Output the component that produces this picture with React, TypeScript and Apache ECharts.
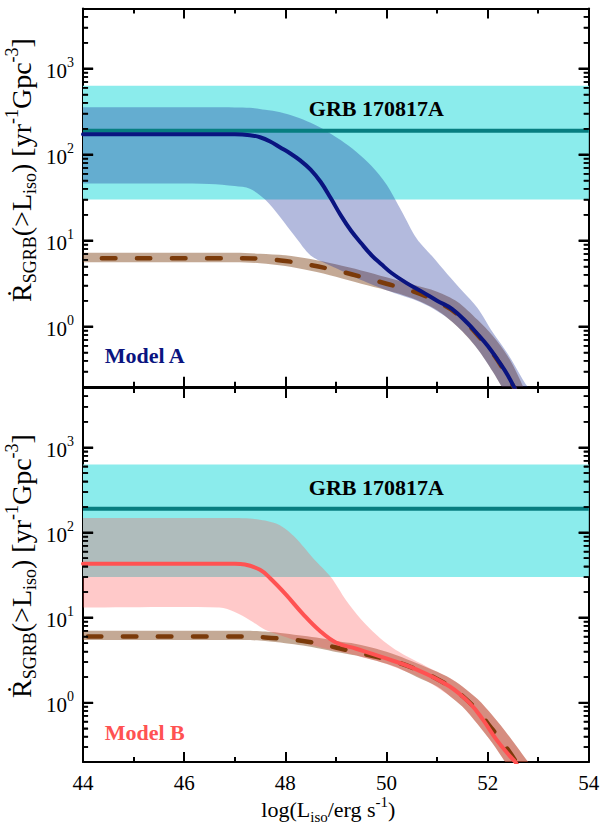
import React, { useEffect, useRef } from 'react';
import * as echarts from 'echarts';

const FONT = '"Liberation Serif", "DejaVu Serif", "Times New Roman", serif';

// ---- axes -------------------------------------------------------------
const L_MIN = 44;
const L_MAX = 54;
const L_STEP = 2;
const RATE_MIN = 0.2;
const RATE_MAX = 5000;
const rateMajorTicks = [1, 10, 100, 1000];
const rateMinorTicks = [
  0.3, 0.4, 0.5, 0.6, 0.7, 0.8, 0.9,
  2, 3, 4, 5, 6, 7, 8, 9,
  20, 30, 40, 50, 60, 70, 80, 90,
  200, 300, 400, 500, 600, 700, 800, 900,
  2000, 3000, 4000,
];
// inward tick lengths along the luminosity axis (axis units)
const MAJOR_TICK_LEN = 0.2;
const MINOR_TICK_LEN = 0.1;

// ---- GRB 170817A local rate (yr^-1 Gpc^-3) ------------------------------
const grbRate = 190;
const grbRateLow = 30;
const grbRateHigh = 630;
const grbLabel = 'GRB 170817A';
const grbLabelPos = [49.8, 340];

// ---- observed SGRB rate (dashed curve and its band), upper panel --------
const obsAL = [44, 47.0, 47.5, 48.0, 48.5, 49.0, 49.5, 50.0, 50.5, 51.0, 51.4, 51.8, 52.1, 52.4, 52.6, 52.8, 53.0];
const obsARate = [6.25, 6.25, 6.15, 5.8, 5.2, 4.5, 3.8, 3.15, 2.6, 1.95, 1.4, 0.8, 0.49, 0.26, 0.16, 0.09, 0.05];
const obsAHigh = [7.2, 7.2, 7.05, 6.75, 6.1, 5.3, 4.5, 3.75, 3.1, 2.55, 1.95, 1.2, 0.78, 0.45, 0.27, 0.15, 0.09];
const obsALow = [5.6, 5.6, 5.45, 5.05, 4.45, 3.8, 3.15, 2.65, 2.15, 1.55, 1.0, 0.55, 0.3, 0.15, 0.09, 0.05, 0.03];

// ---- Model A --------------------------------------------------------------
const modelAL = [44, 47.0, 47.3, 47.5, 47.7, 47.9, 48.1, 48.3, 48.5, 48.7, 48.9, 49.1, 49.3, 49.5, 49.7, 49.9, 50.1, 50.4, 50.7, 51.0, 51.3, 51.6, 51.8, 52.0, 52.2, 52.4, 52.6, 52.8];
const modelARate = [172, 172, 168, 159, 142, 121, 103, 85, 67, 48, 31, 19.5, 13, 9.3, 6.8, 5.3, 4.2, 3.2, 2.55, 2.0, 1.6, 1.1, 0.82, 0.6, 0.41, 0.27, 0.16, 0.095];
const bandAL = [44, 46.5, 47.0, 47.3, 47.6, 47.9, 48.2, 48.5, 48.8, 49.1, 49.4, 49.7, 50.0, 50.3, 50.6, 50.9, 51.2, 51.5, 51.8, 52.1, 52.4, 52.7, 53.0];
const bandAHigh = [355, 355, 354, 350, 332, 311, 275, 234, 190, 147, 108, 74, 45, 22, 10.5, 6.6, 4.1, 2.6, 1.65, 0.86, 0.48, 0.24, 0.12];
const bandALow = [46, 45.5, 43, 40, 30, 18.7, 11, 6.7, 5.4, 4.5, 3.7, 3.1, 2.65, 2.3, 2.0, 1.65, 1.27, 0.88, 0.55, 0.3, 0.15, 0.07, 0.035];
const modelALabelPos = [45.22, 0.46];

// ---- observed SGRB rate, lower panel --------------------------------------
const obsBL = [44, 47.2, 47.6, 48.0, 48.35, 48.7, 49.0, 49.4, 49.8, 50.2, 50.6, 51.0, 51.25, 51.5, 51.8, 52.1, 52.4, 52.7, 53.0];
const obsBRate = [6.0, 6.0, 5.85, 5.6, 5.3, 4.9, 4.45, 3.9, 3.45, 3.0, 2.45, 1.9, 1.55, 1.2, 0.8, 0.48, 0.28, 0.15, 0.08];
const obsBHigh = [7.0, 7.0, 6.85, 6.5, 6.1, 5.7, 5.3, 4.9, 4.3, 3.6, 2.9, 2.3, 1.95, 1.55, 1.1, 0.7, 0.42, 0.24, 0.13];
const obsBLow = [5.45, 5.45, 5.3, 5.0, 4.69, 4.3, 3.95, 3.58, 3.1, 2.6, 2.0, 1.55, 1.2, 0.9, 0.56, 0.33, 0.18, 0.1, 0.05];

// ---- Model B --------------------------------------------------------------
const modelBL = [44, 47.0, 47.2, 47.5, 47.7, 48.0, 48.35, 48.68, 49.0, 49.4, 49.9, 50.6, 51.25, 51.65, 51.9, 52.17, 52.44, 52.55, 52.7, 52.9];
const modelBRate = [42.8, 42.8, 42, 36.5, 29, 19, 11, 7.0, 5.1, 4.3, 3.45, 2.45, 1.55, 0.98, 0.64, 0.37, 0.235, 0.2, 0.14, 0.09];
const bandBL = [44, 46.7, 47.0, 47.3, 47.6, 47.9, 48.2, 48.55, 48.9, 49.2, 49.5, 49.8, 50.1, 50.4, 50.8, 51.25, 51.5, 51.8, 52.1, 52.4, 52.7, 53.0];
const bandBHigh = [148, 148, 148, 146, 138, 121, 87, 50, 30, 16, 9.5, 6.3, 4.5, 3.5, 2.65, 1.95, 1.55, 1.1, 0.7, 0.42, 0.24, 0.13];
const bandBLow = [13.1, 13.1, 11.6, 9.3, 7.2, 6.2, 5.4, 4.7, 4.2, 3.85, 3.45, 3.1, 2.7, 2.3, 1.8, 1.2, 0.9, 0.56, 0.33, 0.18, 0.1, 0.05];
const modelBLabelPos = [45.22, 0.45];

// ---- colours ----------------------------------------------------------------
const CYAN = '#8BECEC';
const TEAL = '#077E80';
const NAVY = '#0A1480';
const NAVY_BAND = 'rgba(20,40,150,0.32)';
const RED = '#FF5252';
const RED_BAND = 'rgba(255,80,80,0.31)';
const BROWN = '#7B3A0A';
const BROWN_BAND = 'rgba(125,65,20,0.45)';

const AXIS_COLOR = '#000';
const Y_AXES_PER_GRID = 2;

const pairs = (xs: number[], ys: number[]) => xs.map((x, i) => [x, ys[i]]);

const supRich = {
  b: { fontSize: 21, fontFamily: FONT, color: '#000', lineHeight: 26, verticalAlign: 'bottom' },
  sup: { fontSize: 14, fontFamily: FONT, color: '#000', lineHeight: 14, verticalAlign: 'top' },
};

const titleRich = (size: number, small: number) => ({
  m: { fontSize: size, fontFamily: FONT, color: '#000', lineHeight: size + 8, verticalAlign: 'middle' },
  sub: { fontSize: small, fontFamily: FONT, color: '#000', lineHeight: small, verticalAlign: 'bottom' },
  sup: { fontSize: small, fontFamily: FONT, color: '#000', lineHeight: small, verticalAlign: 'top' },
});

function xAxis(gridIndex: number, position: 'top' | 'bottom', labelled: boolean) {
  const tickStyle = { color: AXIS_COLOR, width: 2 };
  return {
    type: 'value',
    gridIndex,
    position,
    min: L_MIN,
    max: L_MAX,
    interval: L_STEP,
    axisLine: { show: true, onZero: false, lineStyle: { color: AXIS_COLOR, width: 2 } },
    axisTick: { show: true, inside: true, length: 10, lineStyle: tickStyle },
    minorTick: { show: true, splitNumber: 2, length: 5, lineStyle: tickStyle },
    splitLine: { show: false },
    minorSplitLine: { show: false },
    axisLabel: {
      show: labelled,
      margin: 10,
      fontSize: 21,
      fontFamily: FONT,
      color: '#000',
    },
    ...(labelled
      ? {
          name: '{m|log(L}{sub|iso}{m|/erg s}{sup|-1}{m|)}',
          nameLocation: 'middle',
          nameGap: 28,
          nameTextStyle: {
            rich: titleRich(22, 15),
            padding: [0, 15, 0, 0],
          },
        }
      : {}),
  };
}

// Per grid: the log axis that carries the data and labels, and its mirror on the right.
function yAxes(gridIndex: number) {
  const line = () => ({ show: true, onZero: false, lineStyle: { color: AXIS_COLOR, width: 2 } });
  const logBase = () => ({
    type: 'log',
    logBase: 10,
    gridIndex,
    min: RATE_MIN,
    max: RATE_MAX,
    splitLine: { show: false },
    minorTick: { show: false },
    minorSplitLine: { show: false },
    axisTick: { show: false },
    axisLine: line(),
  });
  return [
    {
      ...logBase(),
      position: 'left',
      axisLabel: {
        show: true,
        margin: 9,
        customValues: rateMajorTicks.slice(),
        formatter: (v: number) => `{b|10}{sup|${Math.round(Math.log10(v))}}`,
        rich: supRich,
      },
    },
    { ...logBase(), position: 'right', axisLabel: { show: false } },
  ];
}

// Inward ticks on both vertical frame edges, as short marker segments.
function rateTickMarkLine() {
  const seg = (v: number, len: number, width: number, left: boolean) => {
    const x0 = left ? L_MIN : L_MAX - len;
    return [
      { coord: [x0, v], lineStyle: { color: AXIS_COLOR, width, type: 'solid' } },
      { coord: [x0 + len, v] },
    ];
  };
  const data: any[] = [];
  rateMajorTicks.forEach((v) => {
    data.push(seg(v, MAJOR_TICK_LEN, 2, true), seg(v, MAJOR_TICK_LEN, 2, false));
  });
  rateMinorTicks.forEach((v) => {
    data.push(seg(v, MINOR_TICK_LEN, 1.5, true), seg(v, MINOR_TICK_LEN, 1.5, false));
  });
  return {
    silent: true,
    symbol: ['none', 'none'],
    label: { show: false },
    emphasis: { disabled: true },
    lineStyle: { color: AXIS_COLOR, width: 2, type: 'solid' },
    data,
  };
}

// Same ticks drawn as a broken line series.
function rateTickSeries(values: number[], len: number, width: number, xi: number, yi: number) {
  const data: any[] = [];
  values.forEach((v) => {
    data.push([L_MIN, v], [L_MIN + len, v], '-');
    data.push([L_MAX - len, v], [L_MAX, v], '-');
  });
  return {
    type: 'line',
    xAxisIndex: xi,
    yAxisIndex: yi,
    data,
    symbol: 'none',
    lineStyle: { color: AXIS_COLOR, width },
  };
}

// Filled band between two curves, drawn as one smoothed polygon.
function band(xs: number[], lo: number[], hi: number[], color: string, xi: number, yi: number) {
  const rows = xs.map((x, i) => [x, lo[i], hi[i]]);
  return {
    type: 'custom',
    xAxisIndex: xi,
    yAxisIndex: yi,
    clip: true,
    silent: true,
    data: rows,
    encode: { x: 0, y: [1, 2] },
    renderItem: (params: any, api: any) => {
      if (params.dataIndex !== 0) return null;
      // extend flat to the left of the frame so the smoothed corner stays hidden
      const top = [api.coord([L_MIN - 1, hi[0]])].concat(rows.map((r) => api.coord([r[0], r[2]])));
      const bottom = [api.coord([L_MIN - 1, lo[0]])].concat(rows.map((r) => api.coord([r[0], r[1]]))).reverse();
      return {
        type: 'polygon',
        shape: { points: top.concat(bottom), smooth: 0.3 },
        style: { fill: color },
      };
    },
  };
}

function curve(xs: number[], ys: number[], color: string, width: number, xi: number, yi: number, extra: any = {}) {
  const { lineStyle, ...rest } = extra;
  return {
    type: 'line',
    xAxisIndex: xi,
    yAxisIndex: yi,
    data: pairs(xs, ys),
    symbol: 'none',
    smooth: 0.4,
    silent: true,
    lineStyle: { color, width, cap: 'round', join: 'round', ...(lineStyle || {}) },
    ...rest,
  };
}

function grbSeries(xi: number, yi: number) {
  return {
    type: 'line',
    xAxisIndex: xi,
    yAxisIndex: yi,
    data: [
      [L_MIN, grbRate],
      [L_MAX, grbRate],
    ],
    symbol: 'none',
    silent: true,
    lineStyle: { color: TEAL, width: 4 },
    markArea: {
      silent: true,
      itemStyle: { color: CYAN },
      data: [[{ yAxis: grbRateLow }, { yAxis: grbRateHigh }]],
    },
    markLine: rateTickMarkLine(),
    markPoint: {
      silent: true,
      symbol: 'circle',
      symbolSize: 1,
      itemStyle: { color: 'rgba(0,0,0,0)' },
      label: {
        show: true,
        position: 'inside',
        formatter: grbLabel,
        fontFamily: FONT,
        fontWeight: 'bold',
        fontSize: 22,
        color: '#000',
      },
      data: [{ coord: grbLabelPos }],
    },
  };
}

function modelLabel(text: string, pos: number[], color: string) {
  return {
    silent: true,
    symbol: 'circle',
    symbolSize: 1,
    itemStyle: { color: 'rgba(0,0,0,0)' },
    label: {
      show: true,
      position: 'inside',
      formatter: text,
      fontFamily: FONT,
      fontWeight: 'bold',
      fontSize: 22,
      color,
    },
    data: [{ coord: pos }],
  };
}

const Y_TITLE = '{m|\u1E58}{sub|SGRB}{m|(>L}{sub|iso}{m|) [yr}{sup|-1}{m|Gpc}{sup|-3}{m|]}';

function buildOption() {
  const yB = Y_AXES_PER_GRID; // first y axis of the lower grid
  return {
    animation: false,
    backgroundColor: '#fff',
    grid: [
      { left: 83, top: 8.5, width: 505.8, height: 378.2 },
      { left: 83, top: 388, width: 505.8, height: 378.7 },
    ],
    xAxis: [xAxis(0, 'bottom', false), xAxis(0, 'top', false), xAxis(1, 'bottom', true), xAxis(1, 'top', false)],
    yAxis: [...yAxes(0), ...yAxes(1)],
    graphic: [170, 566].map((y) => ({
      type: 'text',
      x: 21,
      y,
      rotation: Math.PI / 2,
      silent: true,
      style: { text: Y_TITLE, rich: titleRich(28, 18), align: 'center', verticalAlign: 'middle' },
    })),
    series: [
      // upper panel: Model A
      band(obsAL, obsALow, obsAHigh, BROWN_BAND, 0, 0),
      curve(obsAL, obsARate, BROWN, 4.5, 0, 0, { lineStyle: { type: [13.5, 21.5], dashOffset: 16 } }),
      band(bandAL, bandALow, bandAHigh, NAVY_BAND, 0, 0),
      grbSeries(0, 0),
      curve(modelAL, modelARate, NAVY, 4, 0, 0, { markPoint: modelLabel('Model A', modelALabelPos, NAVY) }),
      rateTickSeries(rateMajorTicks, MAJOR_TICK_LEN, 2, 0, 0),
      rateTickSeries(rateMinorTicks, MINOR_TICK_LEN, 1.5, 0, 0),
      // lower panel: Model B
      band(obsBL, obsBLow, obsBHigh, BROWN_BAND, 2, yB),
      curve(obsBL, obsBRate, BROWN, 4.5, 2, yB, { lineStyle: { type: [13.5, 21.5], dashOffset: 30 } }),
      band(bandBL, bandBLow, bandBHigh, RED_BAND, 2, yB),
      grbSeries(2, yB),
      curve(modelBL, modelBRate, RED, 4, 2, yB, { markPoint: modelLabel('Model B', modelBLabelPos, RED) }),
      rateTickSeries(rateMajorTicks, MAJOR_TICK_LEN, 2, 2, yB),
      rateTickSeries(rateMinorTicks, MINOR_TICK_LEN, 1.5, 2, yB),
    ],
  };
}

export default function App() {
  const ref = useRef<HTMLDivElement>(null);
  useEffect(() => {
    if (!ref.current) return;
    const chart = echarts.init(ref.current, undefined, { renderer: 'svg' });
    chart.setOption(buildOption() as any);
    return () => chart.dispose();
  }, []);
  return (
    <div
      ref={ref}
      style={{ position: 'fixed', left: 0, top: 0, width: 608, height: 825, background: '#fff' }}
    />
  );
}
